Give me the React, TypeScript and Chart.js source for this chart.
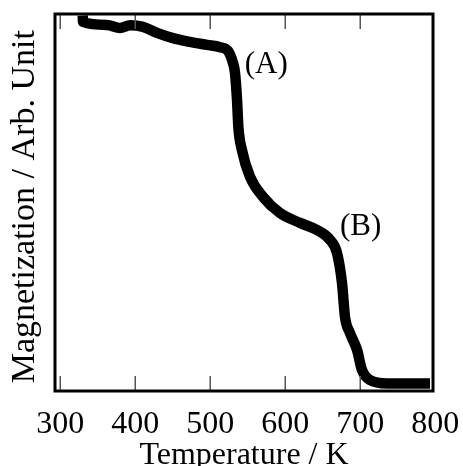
import React, { useEffect, useRef } from "react";
import { Chart, registerables } from "chart.js";

Chart.register(...registerables);

// Temperature (K) and magnetization (arb. unit, 0-100)
const temperature = [
  330.0, 330.3, 362.3, 379.7, 393, 410.3, 429, 450.3, 473, 495.7, 513, 523.7,
  530.3, 533, 535.7, 537.5, 542.3, 553, 570.3, 593, 619.7, 642.3, 659.7, 669,
  675.7, 679.7, 686.3, 695.7, 702.3, 713, 735.7, 793,
];
const magnetization = [
  99.6, 97.9, 97.1, 96.3, 97.0, 96.6, 95.0, 93.6, 92.6, 91.8, 91.2, 90.2,
  87.0, 84.4, 77.2, 70.0, 63.9, 56.8, 51.5, 47.2, 44.6, 42.7, 40.1, 36.6,
  28.6, 19.6, 15.4, 10.9, 5.6, 2.9, 2.0, 2.0,
];
const xTicks = [300, 400, 500, 600, 700, 800];
const annotations = [
  { label: "(A)", x: 546, y: 86.5 },
  { label: "(B)", x: 673, y: 43.5 },
];
const xTitle = "Temperature / K";
const yTitle = "Magnetization / Arb. Unit ";

const FONT = "'Liberation Serif', 'Times New Roman', serif";

const framePlugin = {
  id: "frame",
  afterDraw(chart: any) {
    const { ctx, chartArea, scales } = chart;
    const { left, right, top, bottom } = chartArea;
    ctx.save();
    // inward tick marks
    ctx.strokeStyle = "#555";
    ctx.lineWidth = 1.5;
    for (const v of xTicks) {
      const px = scales.x.getPixelForValue(v);
      if (px <= left + 1 || px >= right - 1) continue;
      ctx.beginPath();
      ctx.moveTo(px, bottom);
      ctx.lineTo(px, bottom - 15);
      ctx.moveTo(px, top);
      ctx.lineTo(px, top + 15);
      ctx.stroke();
    }
    // frame
    ctx.strokeStyle = "#000";
    ctx.lineWidth = 3;
    ctx.strokeRect(left, top, right - left, bottom - top);
    // annotations
    ctx.fillStyle = "#000";
    ctx.font = `31px ${FONT}`;
    ctx.textAlign = "left";
    ctx.textBaseline = "middle";
    for (const a of annotations) {
      ctx.fillText(
        a.label,
        scales.x.getPixelForValue(a.x),
        scales.y.getPixelForValue(a.y)
      );
    }
    ctx.restore();
  },
};

export default function App() {
  const ref = useRef<HTMLCanvasElement>(null);
  useEffect(() => {
    document.body.style.margin = "0";
    const chart = new Chart(ref.current!, {
      type: "line",
      data: {
        datasets: [
          {
            data: temperature.map((t, i) => ({ x: t, y: magnetization[i] })),
            borderColor: "#000",
            borderWidth: 10.5,
            pointRadius: 0,
            cubicInterpolationMode: "monotone",
            borderJoinStyle: "round",
            borderCapStyle: "butt",
            fill: false,
          },
        ],
      },
      plugins: [framePlugin],
      options: {
        responsive: false,
        animation: false,
        layout: { padding: { top: 14, right: 30, left: 0, bottom: 0 } },
        plugins: { legend: { display: false }, tooltip: { enabled: false } },
        scales: {
          x: {
            type: "linear",
            min: 293,
            max: 797,
            afterBuildTicks: (scale: any) => {
              scale.ticks = xTicks.map((v) => ({ value: v }));
            },
            afterFit: (scale: any) => {
              scale.height = 75;
              scale.paddingLeft = 0;
              scale.paddingRight = 0;
            },
            grid: { display: false, drawTicks: false },
            border: { display: false },
            ticks: {
              color: "#000",
              font: { family: FONT, size: 32 },
              padding: 14,
              maxRotation: 0,
              autoSkip: false,
              callback: (v: any) => String(v),
            },
            title: {
              display: true,
              text: xTitle,
              color: "#000",
              font: { family: FONT, size: 32 },
              padding: { top: 0, bottom: -9 },
            },
          },
          y: {
            type: "linear",
            min: 0,
            max: 100,
            afterFit: (scale: any) => {
              scale.width = 55;
              scale.paddingTop = 0;
              scale.paddingBottom = 0;
            },
            grid: { display: false, drawTicks: false },
            border: { display: false },
            ticks: { display: false },
            title: {
              display: true,
              text: yTitle,
              color: "#000",
              font: { family: FONT, size: 34 },
              padding: { top: 5, bottom: 0 },
            },
          },
        },
      },
    } as any);
    return () => chart.destroy();
  }, []);
  return (
    <div style={{ width: 463, height: 466 }}>
      <canvas ref={ref} width={463} height={466} />
    </div>
  );
}
